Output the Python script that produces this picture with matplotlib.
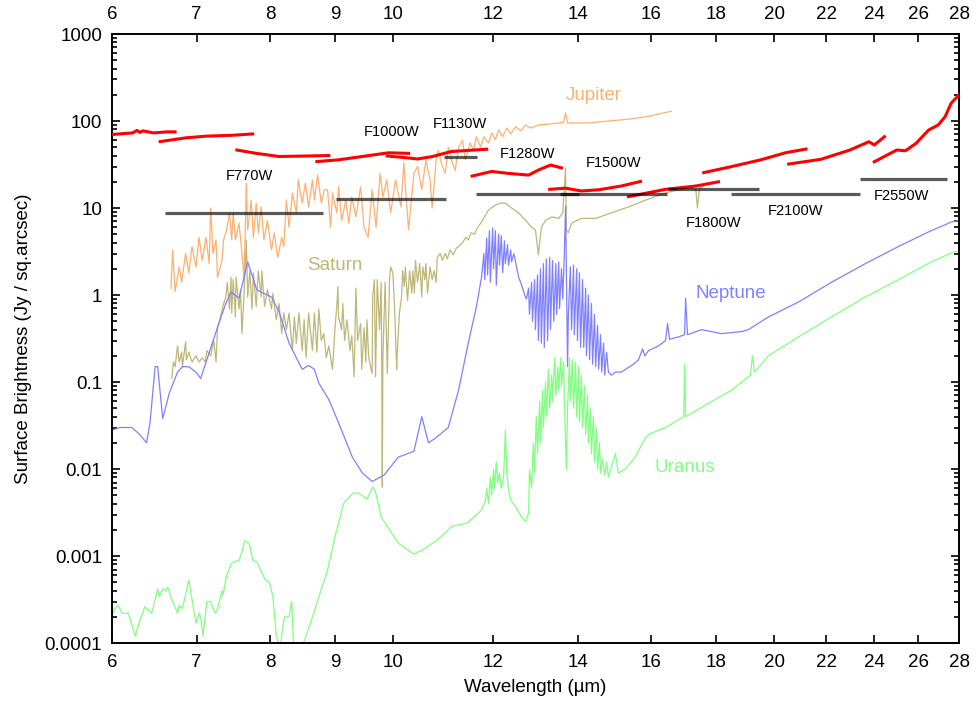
import matplotlib
matplotlib.use("Agg")
import matplotlib.pyplot as plt
from matplotlib.ticker import FixedLocator, FixedFormatter, LogLocator, NullLocator

plt.rcParams['font.family'] = ['Liberation Sans', 'DejaVu Sans']

# ---- spectra (wavelength in um, Jy / sq.arcsec) ----
jupiter_wl = [6.68, 6.70, 6.73, 6.78, 6.81, 6.86, 6.90, 6.94, 6.99, 7.03, 7.07, 7.12, 7.16, 7.18, 7.21,
              7.25, 7.27, 7.33, 7.35, 7.39, 7.43, 7.46, 7.48, 7.51, 7.56, 7.60, 7.63, 7.66, 7.68, 7.73,
              7.76, 7.80, 7.83, 7.87, 7.91, 7.96, 8.02, 8.06, 8.11, 8.17, 8.20, 8.24, 8.28, 8.33, 8.39,
              8.42, 8.48, 8.53, 8.58, 8.64, 8.67, 8.72, 8.78, 8.83, 8.88, 8.93, 8.96, 9.03, 9.06, 9.11,
              9.18, 9.23, 9.28, 9.35, 9.43, 9.49, 9.56, 9.63, 9.70, 9.77, 9.82, 9.89, 9.96, 10.05, 10.15,
              10.20, 10.29, 10.39, 10.46, 10.54, 10.62, 10.70, 10.74, 10.82, 10.86, 10.92, 11.00, 11.06,
              11.12, 11.20, 11.27, 11.35, 11.41, 11.51, 11.58, 11.64, 11.73, 11.80, 11.90, 11.97, 12.05,
              12.12, 12.21, 12.30, 12.39, 12.50, 12.62, 12.73, 12.85, 13.03, 13.27, 13.52, 13.64, 13.69,
              13.74, 14.27, 14.80, 15.35, 15.92, 16.6]
jupiter_sb = [1.2, 3.3, 1.1, 2.1, 1.4, 3.0, 1.8, 3.6, 2.1, 4.6, 2.5, 4.6, 2.3, 10, 3.0,
              4.3, 1.6, 2.5, 4.3, 5.5, 8.8, 4.3, 8.8, 4.3, 6.7, 3.0, 1.5, 19.3, 5.6, 12.3,
              4.6, 11.4, 5.2, 10.3, 4.3, 7.2, 3.3, 5.2, 2.7, 4.6, 3.6, 12.3, 6.0, 14.9, 8.8,
              21, 11.4, 19.3, 10.3, 21, 12.3, 24, 11.4, 16.2, 16.2, 6.0, 14.9, 8.8, 17.6, 7.2,
              12.3, 6.7, 13.4, 7.9, 17.6, 6.0, 4.6, 16.2, 6.0, 25, 13.4, 21, 8.8, 21, 10.3,
              33, 5.6, 25, 30, 16.2, 35.7, 21, 10, 35.7, 46, 33, 25, 50,
              36, 27, 50, 60, 36, 56, 46, 66, 50, 66, 56, 73, 61,
              79, 66, 83, 71, 86, 77, 90, 83, 90, 92, 95, 97, 124,
              95, 95, 100, 105, 113, 130]

saturn_wl = [6.69, 6.71, 6.73, 6.76, 6.78, 6.81, 6.82, 6.86, 6.87, 6.90, 6.94, 6.99, 7.03, 7.07, 7.11,
             7.13, 7.18, 7.22, 7.25, 7.27, 7.31, 7.34, 7.38, 7.40, 7.43, 7.45, 7.46, 7.48, 7.51, 7.52,
             7.56, 7.58, 7.60, 7.63, 7.66, 7.68, 7.71, 7.74, 7.76, 7.80, 7.83, 7.87, 7.88, 7.92, 7.96,
             8.02, 8.04, 8.09, 8.13, 8.17, 8.20, 8.24, 8.28, 8.33, 8.36, 8.39, 8.43, 8.48, 8.51, 8.54,
             8.58, 8.64, 8.67, 8.71, 8.74, 8.78, 8.82, 8.86, 8.90, 8.96, 9.00, 9.03, 9.05, 9.06, 9.11,
             9.13, 9.16, 9.20, 9.25, 9.28, 9.32, 9.35, 9.38, 9.43, 9.45, 9.49, 9.52, 9.54, 9.57, 9.63,
             9.64, 9.67, 9.69, 9.72, 9.76, 9.79, 9.80, 9.81, 9.82, 9.86, 9.90, 9.94, 9.96, 10.00, 10.03,
             10.07, 10.08, 10.12, 10.16, 10.18, 10.21, 10.23, 10.27, 10.31, 10.35, 10.37, 10.40, 10.42,
             10.46, 10.50, 10.54, 10.56, 10.60, 10.62, 10.65, 10.70, 10.74, 10.78, 10.82, 10.84, 10.90,
             10.94, 11.00, 11.04, 11.10, 11.16, 11.23, 11.27, 11.35, 11.42, 11.47, 11.53, 11.60, 11.66,
             11.75, 11.90, 12.05, 12.16, 12.27, 12.41, 12.57, 12.73, 12.87, 12.96, 13.03, 13.10, 13.20,
             13.35, 13.52, 13.62, 13.69, 13.71, 13.76, 13.84, 14.09, 14.46, 14.88, 15.35, 15.83, 16.42,
             16.81, 17.22, 17.35, 17.40, 17.47, 17.60]
saturn_sb = [0.11, 0.17, 0.15, 0.26, 0.17, 0.22, 0.15, 0.29, 0.18, 0.22, 0.17, 0.20, 0.17, 0.19, 0.17,
             0.23, 0.20, 0.30, 0.17, 0.42, 0.56, 0.74, 0.95, 1.4, 0.69, 1.6, 0.62, 1.5, 0.56, 1.6,
             0.69, 1.15, 0.36, 1.05, 4.3, 0.95, 1.9, 0.69, 1.8, 0.74, 1.9, 0.95, 1.9, 0.74, 1.15,
             0.69, 1.05, 0.52, 0.80, 0.36, 0.62, 0.40, 0.62, 0.23, 0.56, 0.28, 0.62, 0.23, 0.52, 0.19,
             0.62, 0.23, 0.62, 0.22, 0.69, 0.30, 0.36, 0.19, 0.26, 0.14, 0.40, 0.74, 1.25, 0.56, 0.40,
             0.80, 0.30, 0.52, 0.23, 0.34, 0.115, 1.2, 0.30, 0.47, 0.14, 0.42, 0.17, 0.52, 0.19, 0.125,
             0.95, 1.5, 0.115, 1.5, 0.40, 1.4, 0.17, 0.0062, 0.19, 1.4, 0.125, 1.5, 2.1, 1.8, 0.74,
             0.14, 0.21, 0.62, 0.95, 1.9, 1.25, 2.1, 0.87, 1.9, 1.05, 1.9, 1.05, 2.5,
             1.4, 2.3, 0.95, 2.1, 1.5, 2.3, 1.05, 2.1, 1.5, 1.9, 1.4, 2.7, 3.0,
             2.5, 3.0, 2.6, 3.3, 2.9, 3.5, 3.6, 4.0, 4.6, 4.3, 5.2, 5.0, 5.9,
             6.9, 9.5, 10.8, 11.4, 11.4, 10, 8.8, 7.2, 6.0, 5.6, 2.9, 6.0, 7.2,
             7.9, 7.6, 8.8, 28.8, 5.6, 5.2, 6.7, 7.6, 7.6, 8.8, 10.3, 12.3, 14.9,
             16.2, 17.0, 16.2, 10, 17, 17.8]

neptune_wl = [6.0, 6.09, 6.22, 6.31, 6.39, 6.43, 6.49, 6.52, 6.58, 6.66, 6.76, 6.82, 6.90, 6.99, 7.05,
              7.12, 7.19, 7.29, 7.38, 7.45, 7.56, 7.68, 7.81, 7.87, 8.02, 8.13, 8.28, 8.39, 8.48, 8.58,
              8.67, 8.74, 8.90, 9.06, 9.29, 9.46, 9.63, 9.84, 10.10, 10.39, 10.54, 10.67, 10.82, 11.06,
              11.27, 11.47, 11.64, 11.75, 11.80, 11.82, 11.86, 11.88, 11.92, 11.94, 11.99, 12.01, 12.05,
              12.07, 12.12, 12.14, 12.18, 12.21, 12.25, 12.27, 12.32, 12.34, 12.39, 12.41, 12.46, 12.50,
              12.57, 12.64, 12.71, 12.75, 12.80, 12.82, 12.87, 12.89, 12.94, 12.96, 13.01, 13.03, 13.08,
              13.10, 13.15, 13.17, 13.22, 13.25, 13.30, 13.32, 13.37, 13.40, 13.45, 13.47, 13.52, 13.54,
              13.59, 13.62, 13.66, 13.69, 13.74, 13.76, 13.81, 13.84, 13.89, 13.91, 13.97, 13.99, 14.04,
              14.07, 14.12, 14.15, 14.20, 14.22, 14.27, 14.30, 14.35, 14.38, 14.43, 14.46, 14.51, 14.54,
              14.59, 14.62, 14.67, 14.70, 14.75, 14.80, 14.88, 14.99, 15.15, 15.27, 15.49, 15.63, 15.75,
              15.81, 15.92, 16.21, 16.42, 16.48, 16.54, 16.81, 17.00, 17.03, 17.09, 17.53, 18.18, 18.85,
              19.09, 19.80, 20.91, 22.20, 23.62, 25.07, 26.48, 27.61, 28.0]
neptune_sb = [0.028, 0.03, 0.03, 0.025, 0.020, 0.034, 0.15, 0.15, 0.038, 0.075, 0.13, 0.15, 0.15, 0.13, 0.11,
              0.17, 0.26, 0.48, 0.80, 1.08, 0.92, 2.4, 1.14, 1.08, 0.95, 0.64, 0.28, 0.19, 0.14, 0.155,
              0.14, 0.097, 0.063, 0.034, 0.0137, 0.009, 0.0072, 0.0085, 0.0137, 0.016, 0.040, 0.020, 0.023, 0.030,
              0.081, 0.28, 0.73, 1.6, 3.0, 1.5, 4.5, 1.7, 5.5, 1.4, 5.9, 2.0, 5.5,
              1.3, 5.0, 2.2, 4.8, 1.8, 4.2, 2.3, 3.8, 2.2, 3.3, 2.4, 3.0, 2.4,
              1.6, 1.3, 1.0, 0.9, 1.2, 0.6, 1.4, 0.5, 1.5, 0.4, 1.7, 0.3, 2.0,
              0.28, 2.3, 0.25, 2.6, 0.3, 2.7, 0.4, 2.5, 0.5, 2.3, 0.6, 2.4, 0.7,
              2.0, 0.9, 3.0, 10.5, 0.15, 0.6, 2.1, 0.4, 2.2, 0.35, 2.0, 0.3, 1.8,
              0.25, 1.5, 0.25, 1.2, 0.2, 1.0, 0.18, 0.8, 0.16, 0.6, 0.15, 0.45, 0.14,
              0.35, 0.13, 0.28, 0.12, 0.22, 0.13, 0.12, 0.13, 0.13, 0.14, 0.16, 0.18, 0.24,
              0.2, 0.23, 0.26, 0.30, 0.47, 0.31, 0.33, 0.35, 0.92, 0.35, 0.40, 0.36, 0.38,
              0.40, 0.56, 0.83, 1.4, 2.3, 3.6, 5.3, 6.9, 7.2]

uranus_wl = [6.0, 6.03, 6.07, 6.11, 6.18, 6.26, 6.31, 6.37, 6.45, 6.52, 6.54, 6.58, 6.62, 6.64, 6.70,
             6.76, 6.78, 6.82, 6.90, 6.99, 7.03, 7.05, 7.08, 7.13, 7.17, 7.24, 7.26, 7.33, 7.34, 7.39,
             7.46, 7.56, 7.58, 7.64, 7.70, 7.75, 7.81, 7.93, 7.99, 8.04, 8.09, 8.15, 8.18, 8.21, 8.28,
             8.32, 8.35, 8.48, 8.64, 8.88, 9.02, 9.15, 9.30, 9.40, 9.54, 9.64, 9.69, 9.79, 9.92, 10.10,
             10.39, 10.58, 10.82, 11.14, 11.45, 11.73, 11.83, 11.86, 11.90, 11.94, 11.97, 12.01, 12.03,
             12.07, 12.10, 12.14, 12.18, 12.23, 12.27, 12.30, 12.34, 12.39, 12.50, 12.64, 12.73, 12.80,
             12.82, 12.87, 12.91, 12.94, 12.98, 13.01, 13.06, 13.08, 13.13, 13.15, 13.20, 13.22, 13.27,
             13.30, 13.35, 13.37, 13.42, 13.45, 13.50, 13.52, 13.57, 13.59, 13.64, 13.66, 13.71, 13.74,
             13.79, 13.81, 13.86, 13.89, 13.94, 13.97, 14.02, 14.04, 14.09, 14.12, 14.17, 14.20, 14.25,
             14.27, 14.32, 14.35, 14.40, 14.43, 14.48, 14.51, 14.56, 14.59, 14.64, 14.70, 14.75, 14.80,
             14.99, 15.07, 15.27, 15.55, 15.69, 15.83, 15.92, 16.42, 16.97, 17.00, 17.03, 17.65, 18.52,
             19.16, 19.23, 19.30, 19.80, 20.91, 22.20, 23.62, 25.07, 26.62, 27.7, 28.0]
uranus_sb = [0.0002, 0.00025, 0.00027, 0.00022, 0.00022, 0.00012, 0.00018, 0.00026, 0.00022, 0.00042,
             0.00034, 0.00042, 0.0004, 0.00044, 0.0003, 0.00022, 0.00027, 0.00025, 0.00053, 0.00017,
             0.00022, 0.0002, 0.00012, 0.0003, 0.0003, 0.00022, 0.00023, 0.0004, 0.00035, 0.0006,
             0.00083, 0.0009, 0.001, 0.0015, 0.0014, 0.0009, 0.00085, 0.00053, 0.0005, 0.00034,
             0.00012, 0.00009, 0.00014, 0.0002, 0.0002, 0.0003, 0.00009, 0.00009, 0.0002, 0.00069,
             0.0019, 0.0041, 0.0053, 0.0053, 0.0045, 0.0062, 0.0055, 0.0028, 0.0021, 0.0014,
             0.00105, 0.0012, 0.0015, 0.0022, 0.0024, 0.0033, 0.0042, 0.006, 0.004, 0.008, 0.005,
             0.01, 0.006, 0.012, 0.007, 0.009, 0.006, 0.008, 0.028, 0.009, 0.006, 0.0044, 0.0037,
             0.0028, 0.0025, 0.0031, 0.0098, 0.006, 0.02, 0.009, 0.04, 0.015, 0.06, 0.02, 0.08,
             0.03, 0.1, 0.04, 0.14, 0.05, 0.12, 0.06, 0.19, 0.07, 0.15, 0.08, 0.19, 0.09, 0.17,
             0.06, 0.01, 0.05, 0.19, 0.06, 0.18, 0.05, 0.17, 0.04, 0.15, 0.035, 0.12, 0.03, 0.09,
             0.025, 0.07, 0.02, 0.05, 0.015, 0.04, 0.012, 0.03, 0.01, 0.02, 0.009, 0.013, 0.0085,
             0.012, 0.0081, 0.015, 0.009, 0.010, 0.014, 0.018, 0.023, 0.025, 0.030, 0.040, 0.16,
             0.04, 0.054, 0.081, 0.12, 0.2, 0.13, 0.2, 0.33, 0.56, 0.95, 1.5, 2.4, 3.1, 3.2]

# red saturation-limit segments: (wavelengths, brightness) per segment
limit_segments = [
    ([6.0, 6.23, 6.28, 6.31, 6.35, 6.47, 6.63, 6.73], [70, 73, 78, 74, 77, 73, 75, 75]),
    ([6.55, 6.86, 7.12, 7.46, 7.75], [58, 64, 67, 68.5, 71]),
    ([7.53, 7.80, 8.13, 8.54, 8.90], [46.4, 42.5, 39.1, 39.6, 40.1]),
    ([8.71, 9.06, 9.52, 9.92, 10.29], [34.2, 35.8, 39.6, 43.1, 42.5]),
    ([9.90, 10.23, 10.46, 10.74, 11.12, 11.86], [39.6, 37.9, 36.6, 39, 44.6, 47.4]),
    ([11.55, 11.97, 12.34, 12.80, 13.03, 13.32, 13.59], [23.3, 26.3, 25.0, 23.9, 27.3, 31.2, 28.9]),
    ([13.30, 13.69, 14.09, 14.54, 15.15, 15.69], [16.4, 16.9, 15.7, 16.2, 17.9, 20.2]),
    ([15.35, 16.42, 17.35, 18.08], [13.5, 16.4, 17.9, 20]),
    ([17.6, 18.45, 19.54, 20.43, 21.2], [25.5, 29.6, 35.9, 43.2, 47.6]),
    ([20.54, 21.78, 22.96, 23.77, 24.0, 24.45], [32, 36.3, 46.4, 57.8, 53, 66]),
    ([24.0, 25.0, 25.4, 25.9, 26.5, 26.96, 27.3, 27.6, 28.0], [34, 46.4, 45.5, 55.5, 79, 90, 112, 160, 200]),
]

# MIRI filters: name, start, end, level
filter_names = ['F770W', 'F1000W', 'F1130W', 'F1280W', 'F1500W', 'F1800W', 'F2100W', 'F2550W']
filter_lo = [6.61, 9.02, 10.98, 11.64, 13.56, 16.5, 18.48, 23.4]
filter_hi = [8.80, 11.02, 11.66, 14.02, 16.46, 19.46, 23.4, 27.4]
filter_level = [8.7, 12.7, 38.9, 14.5, 14.5, 16.7, 14.5, 21.5]
filter_label_xy = [(7.70, 23.3), (9.98, 75), (11.29, 92), (12.78, 42), (14.94, 33),
                   (17.9, 6.7), (20.8, 9.2), (25.2, 13.7)]

planet_names = ['Jupiter', 'Saturn', 'Neptune', 'Uranus']
planet_colors = ['#ffb070', '#bdb77a', '#8080ff', '#80ff80']
planet_label_xy = [(14.4, 194), (9.0, 2.2), (18.5, 1.05), (17.0, 0.0103)]

xticks = [6, 7, 8, 9, 10, 12, 14, 16, 18, 20, 22, 24, 26, 28]
yticks = [0.0001, 0.001, 0.01, 0.1, 1, 10, 100, 1000]
ytick_labels = ['0.0001', '0.001', '0.01', '0.1', '1', '10', '100', '1000']

fig = plt.figure(figsize=(9.77, 7.04), dpi=100)
ax = fig.add_axes([0.1146, 0.0866, 0.8670, 0.8651])

spectra = [(jupiter_wl, jupiter_sb), (saturn_wl, saturn_sb),
           (neptune_wl, neptune_sb), (uranus_wl, uranus_sb)]
for (wl, sb), c in zip(spectra, planet_colors):
    ax.plot(wl, sb, color=c, lw=0.9, zorder=2)

for wl, sb in limit_segments:
    ax.plot(wl, sb, color='#ff0000', lw=2.2, zorder=3)

for lo, hi, lev in zip(filter_lo, filter_hi, filter_level):
    ax.plot([lo, hi], [lev, lev], color='black', alpha=0.65, lw=2.3,
            solid_capstyle='butt', zorder=4)

for name, (x, y) in zip(filter_names, filter_label_xy):
    ax.text(x, y, name, fontsize=10.5, ha='center', va='center', zorder=5)

for name, c, (x, y) in zip(planet_names, planet_colors, planet_label_xy):
    ax.text(x, y, name, fontsize=13.5, color=c, ha='center', va='center', zorder=5)

ax.set_xscale('log')
ax.set_yscale('log')
ax.set_xlim(6, 28)
ax.set_ylim(1e-4, 1e3)

ax.xaxis.set_major_locator(FixedLocator(xticks))
ax.xaxis.set_major_formatter(FixedFormatter([str(t) for t in xticks]))
ax.xaxis.set_minor_locator(NullLocator())
ax.yaxis.set_major_locator(FixedLocator(yticks))
ax.yaxis.set_major_formatter(FixedFormatter(ytick_labels))
ax.yaxis.set_minor_locator(LogLocator(base=10, subs=range(2, 10), numticks=20))

ax.tick_params(which='both', direction='in', top=True, right=True,
               labeltop=True, labelsize=13.5, width=1.2)
ax.tick_params(which='major', length=6, pad=8)
ax.tick_params(axis='y', which='major', pad=7)
ax.tick_params(which='minor', length=3.5)
for s in ax.spines.values():
    s.set_linewidth(1.4)

ax.set_xlabel('Wavelength (µm)', fontsize=13.5, labelpad=6)
ax.set_ylabel('Surface Brightness (Jy / sq.arcsec)', fontsize=13.5, labelpad=9)

fig.savefig('out.png', dpi=100)
